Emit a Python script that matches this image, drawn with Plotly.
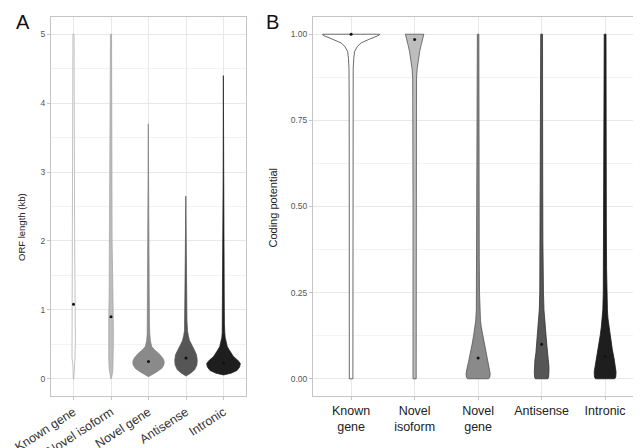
import plotly.graph_objects as go

# ---------------- data ----------------
categories = ["Known gene", "Novel isoform", "Novel gene", "Antisense", "Intronic"]
categories_b = ["Known<br>gene", "Novel<br>isoform", "Novel<br>gene", "Antisense", "Intronic"]

# Panel A: ORF length (kb) density profiles (y level, half-width in category units)
a_known_y = [0, 0.1, 0.2, 0.3, 0.6, 1.0, 1.5, 2.0, 3.0, 4.0, 5.0]
a_known_w = [0.005, 0.02, 0.015, 0.04, 0.05, 0.05, 0.04, 0.03, 0.025, 0.02, 0.015]
a_isoform_y = [0, 0.05, 0.15, 0.3, 0.6, 0.9, 1.2, 1.6, 2.0, 3.0, 4.0, 5.0]
a_isoform_w = [0.005, 0.03, 0.05, 0.06, 0.065, 0.06, 0.05, 0.035, 0.03, 0.025, 0.02, 0.015]
a_novel_y = [0.03, 0.06, 0.1, 0.15, 0.2, 0.25, 0.3, 0.37, 0.42, 0.47, 0.55, 0.65, 0.8, 1.2, 2.0, 3.0, 3.7]
a_novel_w = [0.0, 0.1, 0.22, 0.35, 0.41, 0.42, 0.38, 0.27, 0.16, 0.085, 0.05, 0.035, 0.025, 0.02, 0.015, 0.012, 0.005]
a_antisense_y = [0.04, 0.08, 0.13, 0.2, 0.27, 0.35, 0.42, 0.5, 0.56, 0.63, 0.7, 0.85, 1.2, 2.0, 2.65]
a_antisense_w = [0.0, 0.12, 0.23, 0.29, 0.30, 0.28, 0.22, 0.14, 0.09, 0.06, 0.04, 0.025, 0.02, 0.015, 0.005]
a_intronic_y = [0.055, 0.08, 0.12, 0.17, 0.22, 0.27, 0.32, 0.37, 0.42, 0.47, 0.53, 0.6, 0.67, 0.8, 1.2, 2.0, 3.0, 4.4]
a_intronic_w = [0.0, 0.2, 0.36, 0.43, 0.45, 0.38, 0.27, 0.2, 0.15, 0.1, 0.065, 0.045, 0.035, 0.025, 0.02, 0.015, 0.01, 0.004]
a_means = [1.08, 0.90, 0.25, 0.30, 0.23]

# Panel B: coding potential density profiles
b_known_y = [0.0, 0.5, 0.8, 0.9, 0.93, 0.95, 0.965, 0.975, 0.985, 0.992, 0.997, 1.0]
b_known_w = [0.028, 0.028, 0.03, 0.033, 0.042, 0.055, 0.1, 0.16, 0.28, 0.38, 0.44, 0.45]
b_isoform_y = [0.0, 0.5, 0.8, 0.87, 0.9, 0.93, 0.95, 0.97, 0.99, 1.0]
b_isoform_w = [0.025, 0.025, 0.027, 0.03, 0.04, 0.06, 0.08, 0.105, 0.135, 0.145]
b_novel_y = [0.0, 0.005, 0.015, 0.03, 0.05, 0.075, 0.1, 0.125, 0.15, 0.17, 0.2, 0.25, 0.35, 0.5, 0.75, 1.0]
b_novel_w = [0.165, 0.185, 0.19, 0.175, 0.15, 0.118, 0.095, 0.071, 0.05, 0.037, 0.028, 0.022, 0.018, 0.016, 0.014, 0.012]
b_antisense_y = [0.0, 0.005, 0.02, 0.035, 0.055, 0.075, 0.095, 0.12, 0.15, 0.17, 0.2, 0.25, 0.3, 0.4, 0.6, 1.0]
b_antisense_w = [0.1, 0.11, 0.115, 0.116, 0.105, 0.09, 0.084, 0.072, 0.058, 0.047, 0.037, 0.029, 0.025, 0.02, 0.017, 0.014]
b_intronic_y = [0.0, 0.005, 0.02, 0.04, 0.06, 0.085, 0.1, 0.125, 0.15, 0.175, 0.2, 0.25, 0.32, 0.45, 0.7, 1.0]
b_intronic_w = [0.15, 0.168, 0.172, 0.16, 0.14, 0.113, 0.1, 0.078, 0.06, 0.045, 0.036, 0.029, 0.023, 0.019, 0.016, 0.014]
b_means = [1.0, 0.985, 0.06, 0.10, 0.065]

a_yticks = [0, 1, 2, 3, 4, 5]
b_yticks = [0, 0.25, 0.5, 0.75, 1.0]
b_yticktext = ["0.00", "0.25", "0.50", "0.75", "1.00"]

# ---------------- style ----------------
fills = ["#ffffff", "#bdbdbd", "#8a8a8a", "#565656", "#1e1e1e"]
a_lines = ["#a8a8a8", "#a0a0a0", "#808080", "#505050", "#1e1e1e"]
b_lines = ["#444444", "#555555", "#555555", "#333333", "#1a1a1a"]
FONT = "Liberation Sans, Arial, sans-serif"
OFF = 8  # page body margin
W, H = 641 - OFF, 448 - OFF


def px(x):
    return (x - OFF) / W


def py(y):
    return 1 - (y - OFF) / H


a_profiles = [(a_known_y, a_known_w), (a_isoform_y, a_isoform_w), (a_novel_y, a_novel_w),
              (a_antisense_y, a_antisense_w), (a_intronic_y, a_intronic_w)]
b_profiles = [(b_known_y, b_known_w), (b_isoform_y, b_isoform_w), (b_novel_y, b_novel_w),
              (b_antisense_y, b_antisense_w), (b_intronic_y, b_intronic_w)]

fig = go.Figure()


def add_violins(profiles, means, lines, xa, ya, lw):
    for i, (ys, ws) in enumerate(profiles):
        c = i + 1
        xs = [c + w for w in ws] + [c - w for w in reversed(ws)] + [c + ws[0]]
        yy = list(ys) + list(reversed(ys)) + [ys[0]]
        fig.add_trace(go.Scatter(x=xs, y=yy, mode="lines", fill="toself",
                                 fillcolor=fills[i], line=dict(color=lines[i], width=lw),
                                 xaxis=xa, yaxis=ya, showlegend=False, hoverinfo="skip"))
    fig.add_trace(go.Scatter(x=[i + 1 for i in range(len(means))], y=means, mode="markers",
                             marker=dict(color="#111111", size=3), xaxis=xa, yaxis=ya,
                             showlegend=False, hoverinfo="skip"))


add_violins(a_profiles, a_means, a_lines, "x", "y", 0.7)
add_violins(b_profiles, b_means, b_lines, "x2", "y2", 0.8)

ydom = [py(396), py(17)]
common_axis = dict(showline=True, mirror=True, linecolor="#c4c4c4", linewidth=1,
                   gridcolor="#e8e8e8", gridwidth=0.8, zeroline=False, automargin=False,
                   ticks="outside", ticklen=3, tickcolor="#c4c4c4")

fig.update_layout(
    width=W, height=H, margin=dict(l=0, r=0, t=0, b=0),
    paper_bgcolor="white", plot_bgcolor="white",
    font=dict(family=FONT, color="#222222"),
    xaxis=dict(domain=[px(51), px(246)], range=[0.4, 5.6], anchor="y",
               tickvals=[1, 2, 3, 4, 5], ticktext=categories, tickangle=-33,
               tickfont=dict(size=12.5, color="#333333"), **common_axis),
    yaxis=dict(domain=ydom, range=[-0.25, 5.25], anchor="x",
               tickvals=a_yticks, tickfont=dict(size=8.5, color="#555555"),
               minor=dict(showgrid=True, dtick=0.5, tick0=0, gridcolor="#f3f3f3", gridwidth=0.5),
               **common_axis),
    xaxis2=dict(domain=[px(313), 1.0], range=[0.4, 5.565], anchor="y2",
                tickvals=[1, 2, 3, 4, 5], ticktext=categories_b,
                tickfont=dict(size=12.5, color="#222222"), **common_axis),
    yaxis2=dict(domain=ydom, range=[-0.05, 1.05], anchor="x2",
                tickvals=b_yticks, ticktext=b_yticktext,
                tickfont=dict(size=8.5, color="#555555"),
                minor=dict(showgrid=True, dtick=0.125, tick0=0, gridcolor="#f3f3f3", gridwidth=0.5),
                **common_axis),
    annotations=[
        dict(text="A", x=px(23), y=py(22), xref="paper", yref="paper", showarrow=False,
             font=dict(size=20, color="#111111"), xanchor="center", yanchor="middle"),
        dict(text="B", x=px(272), y=py(22), xref="paper", yref="paper", showarrow=False,
             font=dict(size=20, color="#111111"), xanchor="center", yanchor="middle"),
        dict(text="ORF length (kb)", x=px(21), y=py(227), xref="paper", yref="paper",
             showarrow=False, textangle=-90, font=dict(size=9.5, color="#222222"),
             xanchor="center", yanchor="middle"),
        dict(text="Coding potential", x=px(272.5), y=py(208), xref="paper", yref="paper",
             showarrow=False, textangle=-90, font=dict(size=11, color="#222222"),
             xanchor="center", yanchor="middle"),
    ],
)

fig.write_html("out.html")
